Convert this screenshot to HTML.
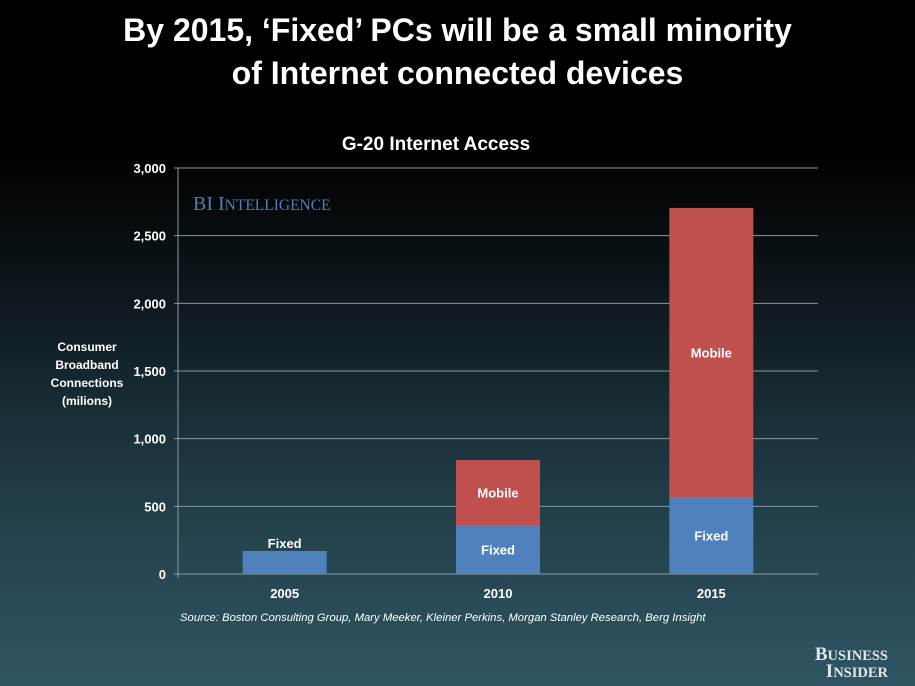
<!DOCTYPE html>
<html><head><meta charset="utf-8"><style>
html,body{margin:0;padding:0}
body{width:915px;height:686px;overflow:hidden;background:linear-gradient(to bottom,#000 0%,#000 22%,#0f1a20 45%,#22404a 75%,#2f5563 100%);font-family:"Liberation Sans",sans-serif;position:relative}
.t{position:absolute;left:0;width:915px;text-align:center;color:#fff;font-weight:bold}
</style></head><body>
<div class="t" style="top:9px;font-size:32px;line-height:43px">By 2015, ‘Fixed’ PCs will be a small minority<br>of Internet connected devices</div>
<svg id="chart" width="915" height="686" style="position:absolute;left:0;top:0" font-family="Liberation Sans, sans-serif"></svg>
<script>
const categories=["2005","2010","2015"];
const fixedValues=[170,362,569];
const mobileValues=[0,480,2136];
const yTicks=[0,500,1000,1500,2000,2500,3000];
const yTickLabels=["0","500","1,000","1,500","2,000","2,500","3,000"];
const svg=document.getElementById('chart');
const NS="http://www.w3.org/2000/svg";
const x0=178,x1=818,yb=574,yt=168,maxV=3000;
const y=v=>yb-(v/maxV)*(yb-yt);
const band=(x1-x0)/categories.length;
const xc=i=>x0+band*(i+0.5);
const bw=84;
function mk(tag,attrs,text){const e=document.createElementNS(NS,tag);for(const k in attrs)e.setAttribute(k,attrs[k]);if(text!==undefined)e.textContent=text;svg.appendChild(e);return e;}
let e;
e=mk('text',{x:436,y:150,fill:'#fff','font-size':19,'font-weight':'bold','text-anchor':'middle'},'G-20 Internet Access');


yTicks.forEach((v,i)=>{
 const g=mk('line',{x1:x0-4,x2:x1,y1:y(v),y2:y(v),stroke:'#8a9aa0','stroke-width':1});
 
 
 const t=mk('text',{x:166,y:y(v)+5,fill:'#fff','font-size':13,'font-weight':'bold','text-anchor':'end'},yTickLabels[i]);
 
 
});
e=mk('line',{x1:x0,x2:x0,y1:yt,y2:yb+4,stroke:'#8a9aa0','stroke-width':1});


e=mk('text',{x:193,y:210,fill:'#4f7fb8','font-size':20,'font-family':'Liberation Serif, serif'},'');
e.innerHTML='BI I<tspan font-size="15.5">NTELLIGENCE</tspan>';


['Consumer','Broadband','Connections','(milions)'].forEach((s,i)=>{
 const t=mk('text',{x:87,y:351+i*18,fill:'#fff','font-size':12,'font-weight':'bold','text-anchor':'middle'},s);
 
 
});
categories.forEach((c,i)=>{
 const cx=xc(i);
 const f=mk('rect',{x:cx-bw/2,y:y(fixedValues[i]),width:bw,height:yb-y(fixedValues[i]),fill:'#4f81bd'});
 
 
 const top=fixedValues[i]+mobileValues[i];
 if(mobileValues[i]>0){
  const m=mk('rect',{x:cx-bw/2,y:y(top),width:bw,height:y(fixedValues[i])-y(top),fill:'#c0504d'});
  
  
  const ml=mk('text',{x:cx,y:(y(top)+y(fixedValues[i]))/2+5,fill:'#fff','font-size':13,'font-weight':'bold','text-anchor':'middle'},'Mobile');
  
  
  const fl=mk('text',{x:cx,y:(y(fixedValues[i])+yb)/2+5,fill:'#fff','font-size':13,'font-weight':'bold','text-anchor':'middle'},'Fixed');
  
  
 } else {
  const fl=mk('text',{x:cx,y:y(fixedValues[i])-3,fill:'#fff','font-size':13,'font-weight':'bold','text-anchor':'middle'},'Fixed');
  
  
 }
 const xl=mk('text',{x:cx,y:598,fill:'#fff','font-size':13,'font-weight':'bold','text-anchor':'middle'},c);
 
 
});
e=mk('text',{x:180,y:621,fill:'#fff','font-size':11.3,'font-style':'italic'},'Source: Boston Consulting Group, Mary Meeker, Kleiner Perkins, Morgan Stanley Research, Berg Insight');


e=mk('text',{x:888,y:660,fill:'#dfe6ea','font-size':19,'font-weight':'bold','font-family':'Liberation Serif, serif','text-anchor':'end'},'');
e.innerHTML='B<tspan font-size="14.5">USINESS</tspan>';


e=mk('text',{x:888,y:677,fill:'#dfe6ea','font-size':19,'font-weight':'bold','font-family':'Liberation Serif, serif','text-anchor':'end'},'');
e.innerHTML='I<tspan font-size="14.5">NSIDER</tspan>';


</script>
</body></html>
